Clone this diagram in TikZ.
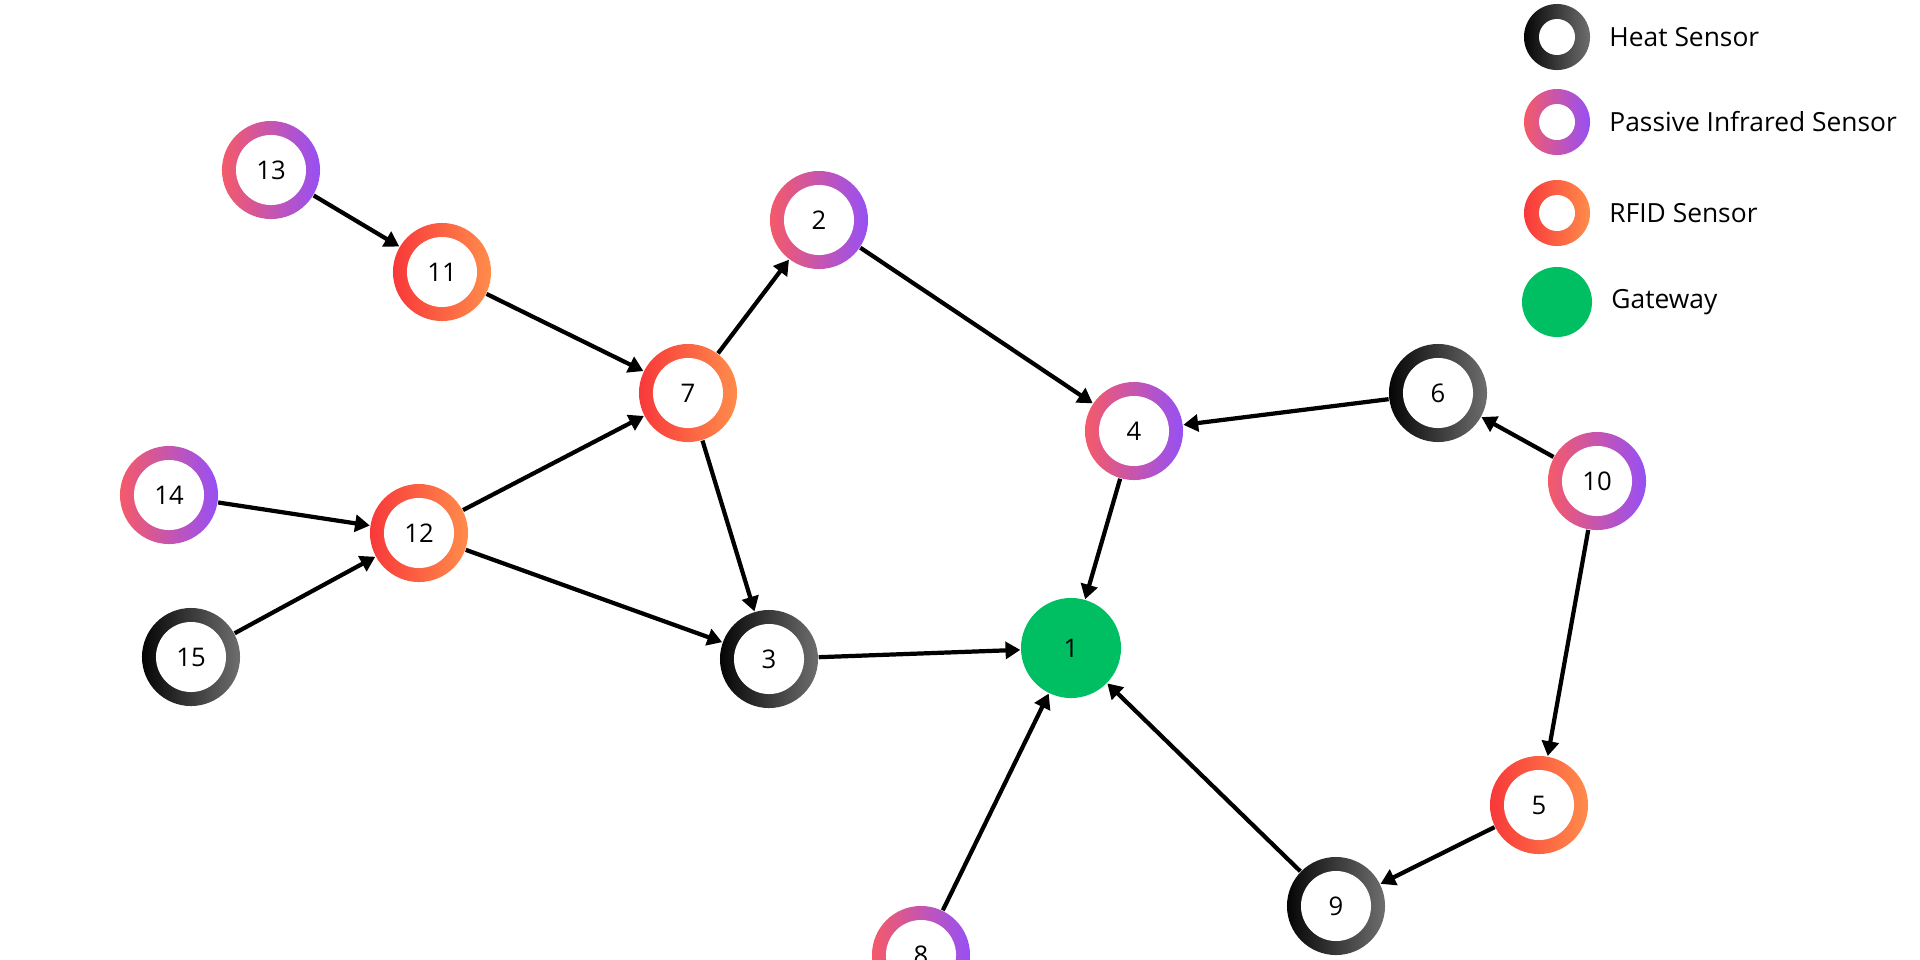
\documentclass[tikz,border=0pt]{standalone}
\usepackage{fontspec}
\setmainfont{Open Sans}
\usetikzlibrary{arrows.meta,positioning}

\definecolor{heatL}{HTML}{050505}
\definecolor{heatR}{HTML}{6E6E6E}
\definecolor{pirL}{HTML}{F55A68}
\definecolor{pirR}{HTML}{9650F5}
\definecolor{rfidL}{HTML}{F8383A}
\definecolor{rfidR}{HTML}{FF8C4B}
\definecolor{gatewaygreen}{HTML}{00BF63}

\tikzset{
  sensor/.style={circle, inner sep=0pt, minimum size=0.98cm, font=\fontsize{7.3}{8}\selectfont,
    path picture={\fill[white] (path picture bounding box.center) circle (0.35cm);}},
  legdot/.style={circle, inner sep=0pt, minimum size=0.66cm,
    path picture={\fill[white] (path picture bounding box.center) circle (0.18cm);}},
  heat/.style={left color=heatL, right color=heatR},
  pir/.style={left color=pirL, right color=pirR},
  rfid/.style={left color=rfidL, right color=rfidR},
  gateway/.style={circle, inner sep=0pt, minimum size=1cm, fill=gatewaygreen, font=\fontsize{7.3}{8}\selectfont},
  legtext/.style={inner sep=0pt, font=\fontsize{7.5}{9}\selectfont},
  link/.style={line width=1.2pt, -{Triangle[length=4.2pt,width=4.8pt]}}
}

\begin{document}
\begin{tikzpicture}[x=0.01cm, y=-0.01cm]
\useasboundingbox (0,0) rectangle (1920,960);
% sensors
\node[sensor,pir]  (n13) at (271,170) {13};
\node[sensor,rfid] (n11) at (442,272) {11};
\node[sensor,pir]  (n2)  at (819,220) {2};
\node[sensor,rfid] (n7)  at (688,393) {7};
\node[sensor,pir]  (n14) at (169,495) {14};
\node[sensor,rfid] (n12) at (419,533) {12};
\node[sensor,heat] (n15) at (191,657) {15};
\node[sensor,heat] (n3)  at (769,659) {3};
\node[sensor,pir]  (n4)  at (1134,431) {4};
\node[sensor,heat] (n6)  at (1438,393) {6};
\node[sensor,pir]  (n10) at (1597,481) {10};
\node[sensor,rfid] (n5)  at (1539,805) {5};
\node[sensor,heat] (n9)  at (1336,906) {9};
\node[sensor,pir]  (n8)  at (921,955) {8};
\node[gateway]     (n1)  at (1071,648) {1};
% links
\foreach \a/\b in {13/11, 11/7, 12/7, 14/12, 15/12, 7/2, 7/3, 12/3, 2/4,
                   3/1, 4/1, 6/4, 10/6, 10/5, 5/9, 9/1, 8/1}
  \draw[link] (n\a) -- (n\b);
% legend
\node[legdot,heat] (lheat) at (1557,37) {};
\node[legtext, right=0.18cm of lheat] {Heat Sensor};
\node[legdot,pir] (lpir) at (1557,122) {};
\node[legtext, right=0.18cm of lpir] {Passive Infrared Sensor};
\node[legdot,rfid] (lrfid) at (1557,213) {};
\node[legtext, right=0.18cm of lrfid] {RFID Sensor};
\node[circle, inner sep=0pt, minimum size=0.7cm, fill=gatewaygreen] (lgate) at (1557,302) {};
\node[legtext, right=0.18cm of lgate] {Gateway};
\end{tikzpicture}
\end{document}
